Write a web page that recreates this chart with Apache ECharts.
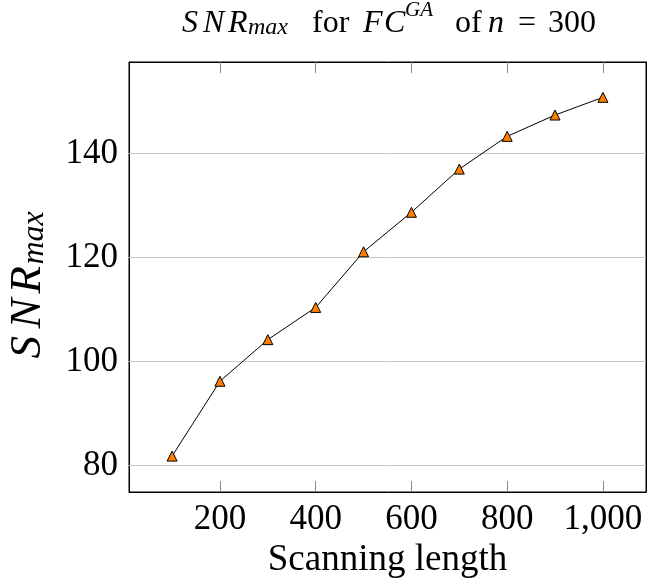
<!DOCTYPE html>
<html><head><meta charset="utf-8">
<script src="https://cdn.jsdelivr.net/npm/echarts@6/dist/echarts.min.js"></script>
<style>html,body{margin:0;padding:0;background:#fff}#c{width:647px;height:581px}</style>
</head><body><div id="c"></div>
<script>
const scanLength = [100, 200, 300, 400, 500, 600, 700, 800, 900, 1000];
const snrMax = [81.8, 96.2, 104.2, 110.4, 121.1, 128.7, 137.0, 143.3, 147.4, 150.8];
const xTicks = [200, 400, 600, 800, 1000];
const yTicks = [80, 100, 120, 140];

const FONT = 'Liberation Serif';
const chart = echarts.init(document.getElementById('c'), null, {renderer: 'canvas'});
const tickStyle = {show: true, inside: true, length: 11, lineStyle: {color: '#8a8a8a', width: 1}};
function fmt(v){ return v.toLocaleString('en-US'); }
const base = {fontFamily: FONT, color: '#000', fontWeight: 'normal'};
function it(size, lh, w, va){ return Object.assign({}, base, {fontStyle: 'italic', fontSize: size, lineHeight: lh, width: w, verticalAlign: va || 'bottom', align: 'left'}); }
function rm(size, lh, w){ return Object.assign({}, base, {fontSize: size, lineHeight: lh, width: w, verticalAlign: 'bottom', align: 'left'}); }
chart.setOption({
  animation: false,
  title: {
    text: '{s|S}{n|N}{r|R}{sub|max}{for|for}{f|F}{c|C}{sup|GA}{of|of}{nn|n}{eq|=}{num|300}',
    left: 182, top: 0, padding: 0,
    textStyle: {
      fontWeight: 'normal',
      rich: {
        s: it(32, 40, 21), n: it(32, 40, 25), r: it(32, 40, 20),
        sub: it(24, 24, 64),
        for: rm(32, 40, 51),
        f: it(32, 40, 21), c: it(32, 40, 21),
        sup: it(21, 23, 50, 'top'),
        of: rm(32, 40, 33),
        nn: it(32, 40, 30),
        eq: rm(32, 40, 30),
        num: rm(32, 40, 45)
      }
    }
  },
  grid: {left: 129, right: 1, top: 62, bottom: 89, show: true, borderColor: '#000', borderWidth: 1,
         containLabel: false, outerBoundsMode: 'none'},
  xAxis: [{
    type: 'value', min: 10, max: 1090,
    axisLine: {show: true, lineStyle: {color: '#000'}},
    axisTick: Object.assign({}, tickStyle, {customValues: xTicks}),
    axisLabel: {customValues: xTicks, formatter: fmt, fontFamily: FONT, fontSize: 35, color: '#000', margin: 10},
    splitLine: {show: false},
    name: 'Scanning length', nameLocation: 'middle', nameGap: 50,
    nameTextStyle: {fontFamily: FONT, fontSize: 37, color: '#000'}
  }, {
    type: 'value', min: 10, max: 1090, position: 'top',
    axisLine: {show: true, lineStyle: {color: '#000'}},
    axisTick: Object.assign({}, tickStyle, {customValues: xTicks}),
    axisLabel: {show: false},
    splitLine: {show: false}
  }],
  yAxis: [{
    type: 'value', min: 74.9, max: 157.6,
    axisLine: {show: true, lineStyle: {color: '#000'}},
    axisTick: Object.assign({}, tickStyle, {customValues: yTicks}),
    axisLabel: {customValues: yTicks, fontFamily: FONT, fontSize: 35, color: '#000', margin: 11},
    splitLine: {show: false},
    name: '{s|S}{n|N}{r|R}{sub|max}', nameLocation: 'middle', nameGap: 78, nameRotate: 90,
    nameTextStyle: {
      rich: {
        s: it(45, 56, 30), n: it(45, 56, 35), r: it(45, 56, 29),
        sub: it(32, 34, 69)
      }
    }
  }, {
    type: 'value', min: 74.9, max: 157.6, position: 'right',
    axisLine: {show: true, lineStyle: {color: '#000'}},
    axisTick: Object.assign({}, tickStyle, {customValues: yTicks}),
    axisLabel: {show: false},
    splitLine: {show: false}
  }],
  series: [{
    type: 'line',
    data: scanLength.map((x, i) => [x, snrMax[i]]),
    xAxisIndex: 0, yAxisIndex: 0,
    lineStyle: {color: '#000', width: 1},
    symbol: 'triangle', symbolSize: 10,
    itemStyle: {color: '#ff8000', borderColor: '#000', borderWidth: 1},
    markLine: {
      silent: true, symbol: 'none', label: {show: false},
      lineStyle: {color: '#c8c8c8', type: 'solid', width: 1},
      data: yTicks.map(v => ({yAxis: v}))
    },
    z: 5
  }]
});
</script></body></html>
